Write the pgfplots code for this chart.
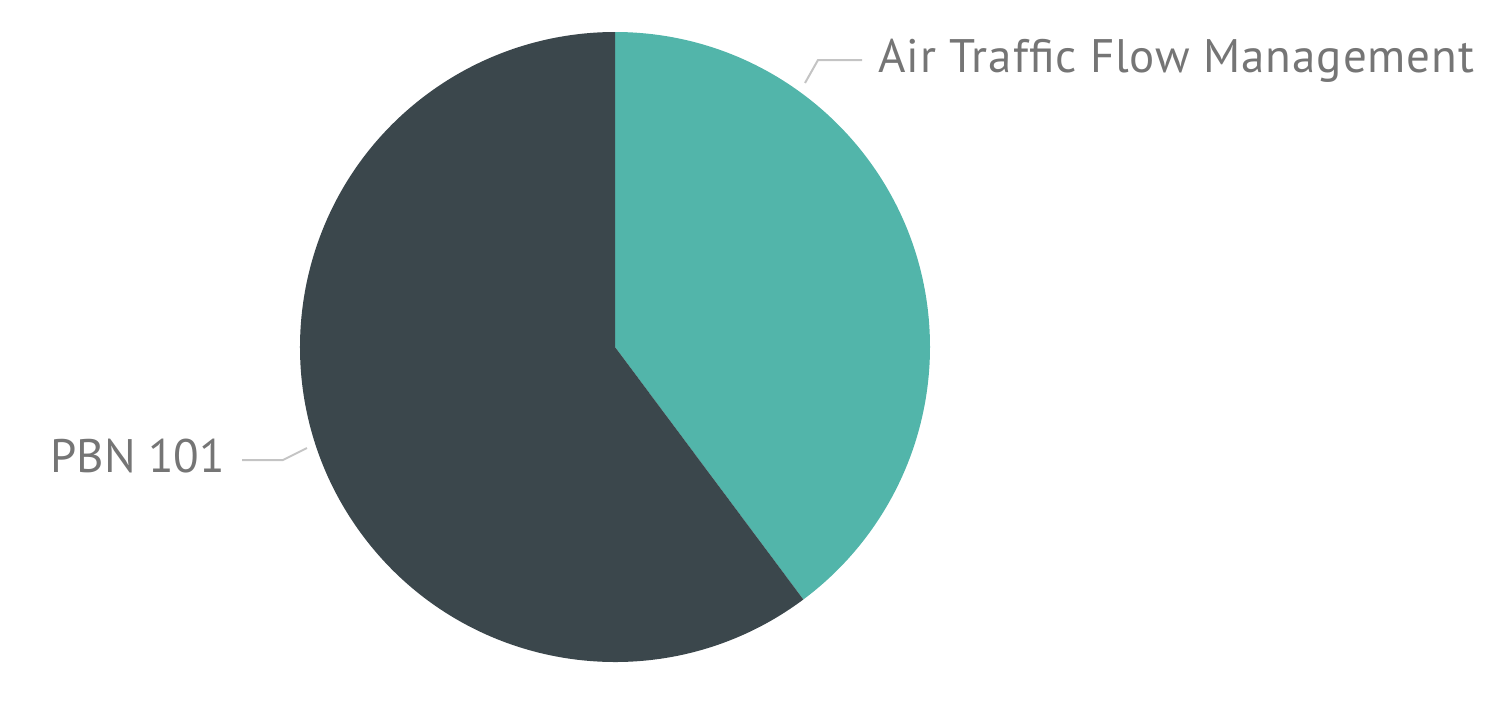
\documentclass[border=0pt]{standalone}
\usepackage{pgfplots}
\usepackage{pgfplotstable}
\pgfplotsset{compat=1.18}
\usepackage{fontspec}
\setmainfont{PT Sans}
\newfontfamily\spaced[LetterSpace=2]{PT Sans}

\definecolor{atfm}{HTML}{52B5AA}
\definecolor{pbn}{HTML}{3B474C}
\definecolor{lbl}{HTML}{757575}
\definecolor{leader}{HTML}{C4C4C4}

% share of each course (percent)
\pgfplotstableread{
course share
ATFM   39.8
PBN    60.2
}\piedata

\begin{document}
\begin{tikzpicture}
\pgfplotstablegetelem{0}{share}\of\piedata
\pgfmathsetmacro{\angA}{3.6*\pgfplotsretval}
\pgfplotstablegetelem{1}{share}\of\piedata
\pgfmathsetmacro{\angB}{3.6*\pgfplotsretval}
\begin{axis}[
    width=756pt, height=339pt,
    scale only axis,
    xmin=0, xmax=1512, ymin=0, ymax=678,
    hide axis,
    clip=false,
    ]
    \path (rel axis cs:0,0) rectangle (rel axis cs:1,1);
    % wedges clockwise from 12 o'clock, centre (615,331), radius 315 units = 157.5pt
    \fill[atfm] (axis cs:615,331) -- ++(90:157.5pt)
        arc[start angle=90, delta angle=-\angA, radius=157.5pt] -- cycle;
    \fill[pbn] (axis cs:615,331) -- ++({90-\angA}:157.5pt)
        arc[start angle={90-\angA}, delta angle=-\angB, radius=157.5pt] -- cycle;
    % leader lines
    \draw[leader, line width=1pt] (axis cs:805,595) -- (axis cs:818,618) -- (axis cs:862,618);
    \draw[leader, line width=1pt] (axis cs:307,230) -- (axis cs:283,218) -- (axis cs:242,218);
    % labels
    \node[anchor=base west, inner sep=0pt, text=lbl, font=\spaced\fontsize{23.5}{27}\selectfont]
        at (axis cs:878,606) {Air Traffic Flow Management};
    \node[anchor=base west, inner sep=0pt, text=lbl, font=\fontsize{23.5}{27}\selectfont]
        at (axis cs:50,206) {PBN 101};
\end{axis}
\end{tikzpicture}
\end{document}
